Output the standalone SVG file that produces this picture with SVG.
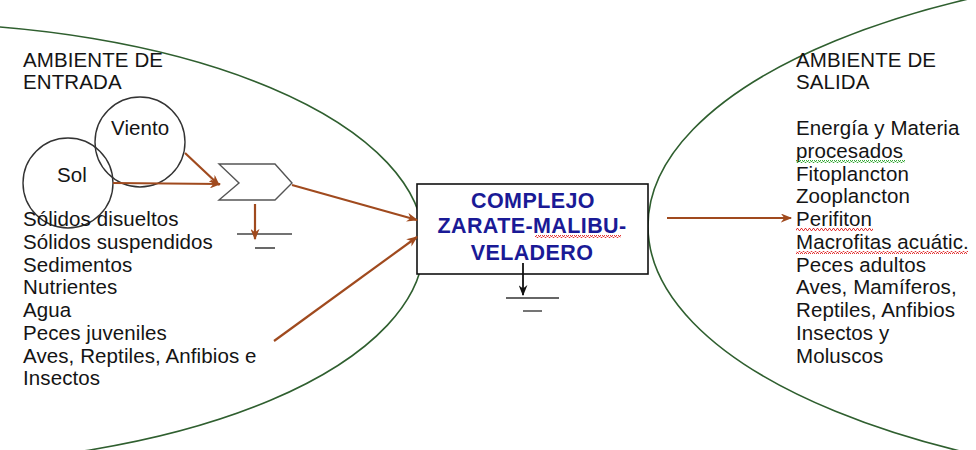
<svg xmlns="http://www.w3.org/2000/svg" width="976" height="450" viewBox="0 0 976 450">
<style>
.t{font-family:"Liberation Sans",Arial,sans-serif;font-size:20.5px;letter-spacing:0.1px;fill:#141414}
.b{font-family:"Liberation Sans",Arial,sans-serif;font-size:21.5px;letter-spacing:0.4px;font-weight:bold;fill:#1a1a96}
.env{fill:none;stroke:#2f5f2f;stroke-width:1.6}
.flow{fill:none;stroke:#a04a1e;stroke-width:2.2;marker-end:url(#ah)}
.circ{fill:none;stroke:#333;stroke-width:1.4}
.gnd{stroke:#444;stroke-width:1.6}
</style>
<defs>
<marker id="ah" viewBox="0 0 10 8" refX="9" refY="4" markerWidth="12" markerHeight="9" orient="auto" markerUnits="userSpaceOnUse">
<path d="M0,0 L10,4 L0,8 L3,4 z" fill="#a04a1e"/>
</marker>
<marker id="ahk" viewBox="0 0 10 8" refX="9" refY="4" markerWidth="11" markerHeight="9" orient="auto" markerUnits="userSpaceOnUse">
<path d="M0,0 L10,4 L0,8 L3,4 z" fill="#111"/>
</marker>
<pattern id="sqr" width="4" height="3" patternUnits="userSpaceOnUse">
<path d="M0,2.5 L1,0.5 L2,0.5 L3,2.5 L4,2.5" fill="none" stroke="#e02020" stroke-width="0.9"/>
</pattern>
<pattern id="sqg" width="4" height="3" patternUnits="userSpaceOnUse">
<path d="M0,2.5 L1,0.5 L2,0.5 L3,2.5 L4,2.5" fill="none" stroke="#20a020" stroke-width="0.9"/>
</pattern>
</defs>

<g id="ambiente-entrada">
<ellipse class="env" cx="-100" cy="244" rx="524" ry="221"/>
<text class="t" x="23" y="67">AMBIENTE DE</text>
<text class="t" x="23" y="89">ENTRADA</text>
</g>

<g id="ambiente-salida">
<ellipse class="env" cx="1288" cy="226" rx="640" ry="262"/>
<text class="t" x="796" y="67">AMBIENTE DE</text>
<text class="t" x="796" y="89">SALIDA</text>
</g>

<g id="sol">
<circle class="circ" cx="68" cy="183" r="45"/>
<text class="t" x="57" y="182">Sol</text>
</g>

<g id="viento">
<circle class="circ" cx="140" cy="142" r="45"/>
<text class="t" x="111" y="135">Viento</text>
</g>

<g id="interaccion">
<path d="M219,164 L275,164 L292,183 L275,200 L219,200 L239,183 Z" fill="none" stroke="#555" stroke-width="1.4"/>
</g>

<g id="sumidero-entrada">
<line class="gnd" x1="237" y1="234" x2="292" y2="234"/>
<line class="gnd" x1="255" y1="248" x2="275" y2="248"/>
</g>

<g id="entradas">
<text class="t" x="23" y="226">Sólidos disueltos</text>
<text class="t" x="23" y="248.7">Sólidos suspendidos</text>
<text class="t" x="23" y="271.5">Sedimentos</text>
<text class="t" x="23" y="294.2">Nutrientes</text>
<text class="t" x="23" y="317">Agua</text>
<text class="t" x="23" y="339.7">Peces juveniles</text>
<text class="t" x="23" y="362.5">Aves, Reptiles, Anfibios e</text>
<text class="t" x="23" y="385.2">Insectos</text>
</g>

<g id="complejo">
<rect x="417" y="184" width="231" height="90" fill="#fff" stroke="#111" stroke-width="1.6"/>
<text class="b" x="533" y="208" text-anchor="middle">COMPLEJO</text>
<text class="b" x="532" y="233" text-anchor="middle">ZARATE-MALIBU-</text>
<text class="b" x="532" y="260" text-anchor="middle">VELADERO</text>
<rect x="535" y="235" width="86" height="3" fill="url(#sqr)"/>
</g>

<g id="sumidero-complejo">
<line x1="506" y1="298" x2="559" y2="298" stroke="#666" stroke-width="1.8"/>
<line x1="523" y1="311" x2="542" y2="311" stroke="#666" stroke-width="1.8"/>
</g>

<g id="salidas">
<text class="t" x="796" y="135">Energía y Materia</text>
<text class="t" x="796" y="157.7">procesados</text>
<text class="t" x="796" y="180.5">Fitoplancton</text>
<text class="t" x="796" y="203.2">Zooplancton</text>
<text class="t" x="796" y="226">Perifiton</text>
<text class="t" x="796" y="248.7">Macrofitas acuátic.</text>
<text class="t" x="796" y="271.5">Peces adultos</text>
<text class="t" x="796" y="294.2">Aves, Mamíferos,</text>
<text class="t" x="796" y="317">Reptiles, Anfibios</text>
<text class="t" x="796" y="339.7">Insectos y</text>
<text class="t" x="796" y="362.5">Moluscos</text>
<rect x="796" y="160" width="109" height="3" fill="url(#sqg)"/>
<rect x="796" y="228" width="77" height="3" fill="url(#sqr)"/>
<rect x="796" y="251" width="172" height="3" fill="url(#sqr)"/>
</g>

<g id="conectores">
<line class="flow" x1="113" y1="183" x2="220" y2="184"/>
<line class="flow" x1="185" y1="153" x2="219" y2="185"/>
<line class="flow" x1="292" y1="185" x2="417" y2="220"/>
<line class="flow" x1="274" y1="341" x2="417" y2="237"/>
<line class="flow" x1="255" y1="204" x2="255" y2="239"/>
<line class="flow" x1="667" y1="218" x2="791" y2="218"/>
<line x1="523" y1="263" x2="523" y2="295" stroke="#111" stroke-width="1.8" marker-end="url(#ahk)"/>
</g>
</svg>
